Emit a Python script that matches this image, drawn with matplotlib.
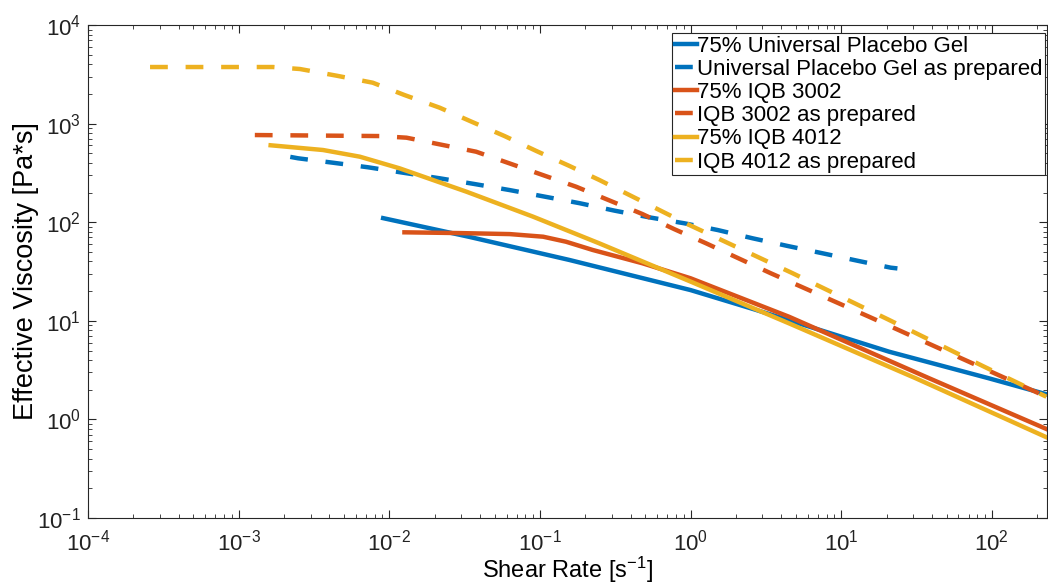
import matplotlib
matplotlib.use("Agg")
import matplotlib.pyplot as plt

plt.rcParams['font.family'] = ['Liberation Sans', 'DejaVu Sans']
plt.rcParams['mathtext.fontset'] = 'custom'
plt.rcParams['mathtext.rm'] = 'Liberation Sans'
plt.rcParams['mathtext.it'] = 'Liberation Sans:italic'
plt.rcParams['mathtext.default'] = 'regular'

# 75% Universal Placebo Gel
upg75_x = [9.1e-3, 0.034, 0.157, 1.0, 2.72, 20.8, 95.7, 230]
upg75_y = [110, 71, 41.4, 20.5, 12.9, 4.86, 2.61, 1.8]

# Universal Placebo Gel as prepared
upg_x = [2.2e-3, 2.48e-3, 4.24e-3, 7.2e-3, 0.0123, 0.0216, 0.0368, 0.0628, 0.107,
         0.183, 0.313, 0.533, 0.91, 1.51, 2.58, 4.41, 7.52, 12.8, 21.3, 23.6]
upg_y = [460, 445, 401, 361, 318, 279, 244, 212, 182,
         156, 131, 112, 97.5, 83.4, 68.7, 57.4, 48.4, 40.7, 34.6, 34]

# 75% IQB 3002
iqb3_75_x = [0.0126, 0.0293, 0.063, 0.105, 0.149, 0.224, 0.48, 1.0, 4.5, 38, 230]
iqb3_75_y = [79, 77.6, 75.8, 71.3, 63.4, 52.3, 38.3, 27, 11, 2.63, 0.8]

# IQB 3002 as prepared
iqb3_x = [1.28e-3, 8.6e-3, 0.013, 0.0377, 0.174, 0.479, 0.78, 1.27, 3.4, 15.3, 117, 230]
iqb3_y = [766, 748, 720, 519, 229, 121, 85, 61, 30.4, 11, 2.71, 1.7]

# 75% IQB 4012
iqb4_75_x = [1.63e-3, 3.63e-3, 6.37e-3, 0.0117, 0.0325, 0.0898, 0.248, 1.0, 4.52, 31.3, 230]
iqb4_75_y = [603, 540, 462, 352, 204, 114, 61, 25, 9.4, 2.61, 0.66]

# IQB 4012 as prepared
iqb4_x = [2.58e-4, 1.69e-3, 2.55e-3, 4.48e-3, 7.76e-3, 0.0126, 0.0216, 0.0352, 0.0582,
          0.0948, 0.157, 0.248, 0.687, 0.98, 4.75, 20.8, 88.7, 230]
iqb4_y = [3750, 3750, 3580, 3060, 2600, 1950, 1450, 1045, 748,
          527, 372, 268, 123, 93.8, 30.4, 10.2, 3.43, 1.7]

c_blue = '#0072BD'
c_orange = '#D95319'
c_yellow = '#EDB120'
axcol = '#262626'

fig = plt.figure(figsize=(10.48, 5.86), dpi=100)
ax = fig.add_axes([0.084, 0.116, 0.915, 0.8413])

lw = 3.2
dash = (0, (4, 4))
ax.plot(upg75_x, upg75_y, color=c_blue, lw=lw, label='75% Universal Placebo Gel')
ax.plot(upg_x, upg_y, color=c_blue, lw=lw, ls=dash, dash_capstyle='butt',
        label='Universal Placebo Gel as prepared')
ax.plot(iqb3_75_x, iqb3_75_y, color=c_orange, lw=lw, label='75% IQB 3002')
ax.plot(iqb3_x, iqb3_y, color=c_orange, lw=lw, ls=dash, dash_capstyle='butt',
        label='IQB 3002 as prepared')
ax.plot(iqb4_75_x, iqb4_75_y, color=c_yellow, lw=lw, label='75% IQB 4012')
ax.plot(iqb4_x, iqb4_y, color=c_yellow, lw=lw, ls=dash, dash_capstyle='butt',
        label='IQB 4012 as prepared')

ax.set_xscale('log')
ax.set_yscale('log')
ax.set_xlim(1e-4, 232)
ax.set_ylim(1e-1, 1e4)

ax.set_xlabel('Shear Rate [s$^{-1}$]', fontsize=17, color='k', labelpad=0)
ax.set_ylabel('Effective Viscosity [Pa*s]', fontsize=19.5, color='k', labelpad=-1)

ax.tick_params(which='both', direction='in', top=True, right=True,
               colors=axcol, labelcolor='#222222', labelsize=16)
ax.tick_params(axis='x', which='both', pad=8)
ax.tick_params(axis='y', which='both', pad=5)
ax.tick_params(which='major', length=6, width=0.8)
ax.tick_params(which='minor', length=3, width=0.6)
for s in ax.spines.values():
    s.set_color(axcol)
    s.set_linewidth(0.8)

leg = ax.legend(loc='upper right', bbox_to_anchor=(0.998, 0.984), borderaxespad=0,
                fontsize=16, handlelength=1.0, handletextpad=0.0, labelspacing=0.1,
                borderpad=0.12, fancybox=False, framealpha=1, edgecolor=axcol)
leg.get_frame().set_linewidth(0.8)

fig.savefig('out.png', dpi=100)
